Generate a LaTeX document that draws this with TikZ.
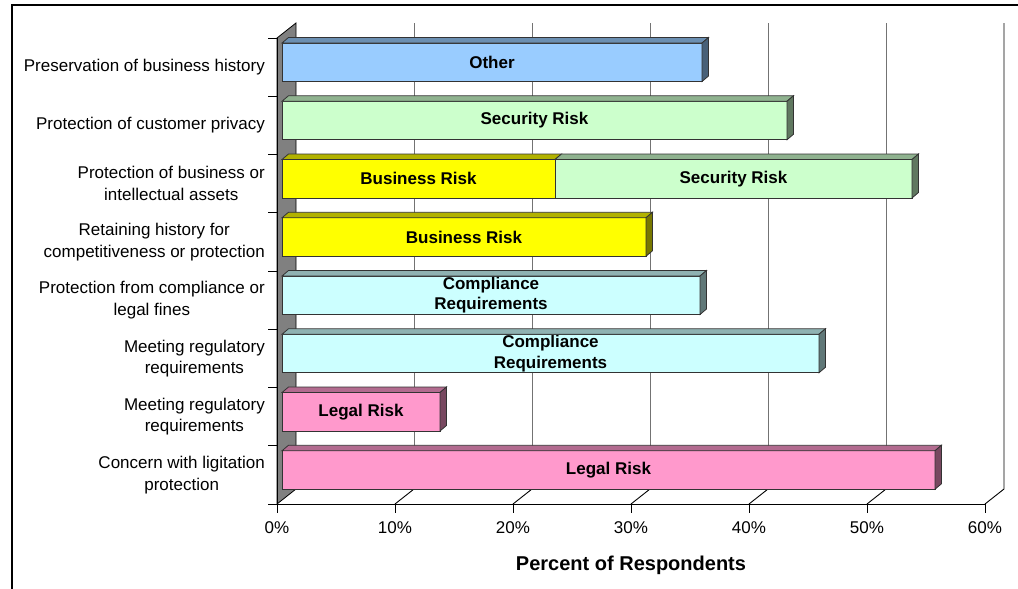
\documentclass[tikz,border=0pt]{standalone}
\usepackage{fontspec}
\setmainfont{Liberation Sans}
\definecolor{other}{HTML}{99CCFF}
\definecolor{security}{HTML}{CCFFCC}
\definecolor{business}{HTML}{FFFF00}
\definecolor{compliance}{HTML}{CCFFFF}
\definecolor{legal}{HTML}{FF99CC}
\tikzset{
  face/.style={draw=black!80, line width=0.8pt},
  front/.style={face, anchor=north west, minimum height=38.5pt, inner sep=0pt, outer sep=0pt, align=center, font=\fontsize{17}{20.5}\selectfont\bfseries},
  cat/.style={anchor=east, align=center, inner sep=0pt, font=\fontsize{17}{21.5}\selectfont},
  tick/.style={font=\fontsize{17}{20}\selectfont},
  grid/.style={black!55, line width=0.9pt},
}
\newcommand\topface[2]{%
  \filldraw[face, fill=#2!70!black] (#1.north west) -- ++(6.5,-5.5) -- ([shift={(6.5,-5.5)}]#1.north east) -- (#1.north east) -- cycle;}
\newcommand\sideface[2]{%
  \filldraw[face, fill=#2!47!black] (#1.north east) -- ++(6.5,-5.5) -- ([shift={(6.5,-5.5)}]#1.south east) -- (#1.south east) -- cycle;}
\begin{document}
\begin{tikzpicture}[x=1pt,y=-1pt]
  \useasboundingbox (0,0) rectangle (1018,589);
  \draw[line width=2pt] (12,589) -- (12,5) -- (1018,5);
  \filldraw[fill=gray, draw=black, line width=0.8pt] (277,38) -- (296,23) -- (296,489) -- (277,504) -- cycle;
  \draw[grid]
    (414,23) -- (414,489)
    (532,23) -- (532,489)
    (650,23) -- (650,489)
    (768,23) -- (768,489)
    (886,23) -- (886,489);
  \draw[black, line width=0.9pt]
    (1004,23) -- (1004,489)
    (395,504) -- (414,489)
    (513,504) -- (532,489)
    (631,504) -- (650,489)
    (749,504) -- (768,489)
    (867,504) -- (886,489)
    (985,504) -- (1004,489);
  \draw[black, line width=0.9pt]
    (277,38) -- (277,513)
    (268,504) -- (985,504)
    (395,504) -- (395,513)
    (513,504) -- (513,513)
    (631,504) -- (631,513)
    (749,504) -- (749,513)
    (867,504) -- (867,513)
    (985,504) -- (985,513)
    (268,38) -- (277,38)
    (268,96.25) -- (277,96.25)
    (268,154.5) -- (277,154.5)
    (268,212.75) -- (277,212.75)
    (268,271) -- (277,271)
    (268,329.25) -- (277,329.25)
    (268,387.5) -- (277,387.5)
    (268,445.75) -- (277,445.75);
  \node[front, fill=other, minimum width=420pt] (other) at (282,43) {Other};
  \topface{other}{other}
  \sideface{other}{other}
  \node[front, fill=security, minimum width=505pt] (privacy) at (282,101.25) {Security Risk};
  \topface{privacy}{security}
  \sideface{privacy}{security}
  \node[front, fill=business, minimum width=273pt] (assetsB) at (282,159.5) {Business Risk};
  \node[front, fill=security, minimum width=357pt] (assetsS) at (555,159.5) {Security Risk};
  \topface{assetsB}{business}
  \topface{assetsS}{security}
  \sideface{assetsS}{security}
  \node[front, fill=business, minimum width=364pt] (retain) at (282,217.75) {Business Risk};
  \topface{retain}{business}
  \sideface{retain}{business}
  \node[front, fill=compliance, minimum width=418pt] (fines) at (282,276) {Compliance\\Requirements};
  \topface{fines}{compliance}
  \sideface{fines}{compliance}
  \node[front, fill=compliance, minimum width=537pt] (regC) at (282,334.25) {Compliance\\Requirements};
  \topface{regC}{compliance}
  \sideface{regC}{compliance}
  \node[front, fill=legal, minimum width=158pt] (regL) at (282,392.5) {Legal Risk};
  \topface{regL}{legal}
  \sideface{regL}{legal}
  \node[front, fill=legal, minimum width=653pt] (litig) at (282,450.75) {Legal Risk};
  \topface{litig}{legal}
  \sideface{litig}{legal}
  \node[cat] (c1) at (265,67.1) {Preservation of business history};
  \node[cat] (c2) at (265,125.4) {Protection of customer privacy};
  \node[cat] (c3) at (265,183.6) {Protection of business or\\intellectual assets};
  \node[cat] (c4) at (265,241.9) {Retaining history for\\competitiveness or protection};
  \node[cat] (c5) at (265,300.1) {Protection from compliance or\\legal fines};
  \node[cat] (c6) at (265,358.4) {Meeting regulatory\\requirements};
  \node[cat] (c7) at (265,416.6) {Meeting regulatory\\requirements};
  \node[cat] (c8) at (265,474.9) {Concern with ligitation\\protection};
  \node[tick] (t0) at (277,528) {0\%};
  \node[tick] (t1) at (395,528) {10\%};
  \node[tick] (t2) at (513,528) {20\%};
  \node[tick] (t3) at (631,528) {30\%};
  \node[tick] (t4) at (749,528) {40\%};
  \node[tick] (t5) at (867,528) {50\%};
  \node[tick] (t6) at (985,528) {60\%};
  \node[font=\fontsize{20}{24}\selectfont\bfseries] (axis) at (631,565) {Percent of Respondents};
\end{tikzpicture}
\end{document}
